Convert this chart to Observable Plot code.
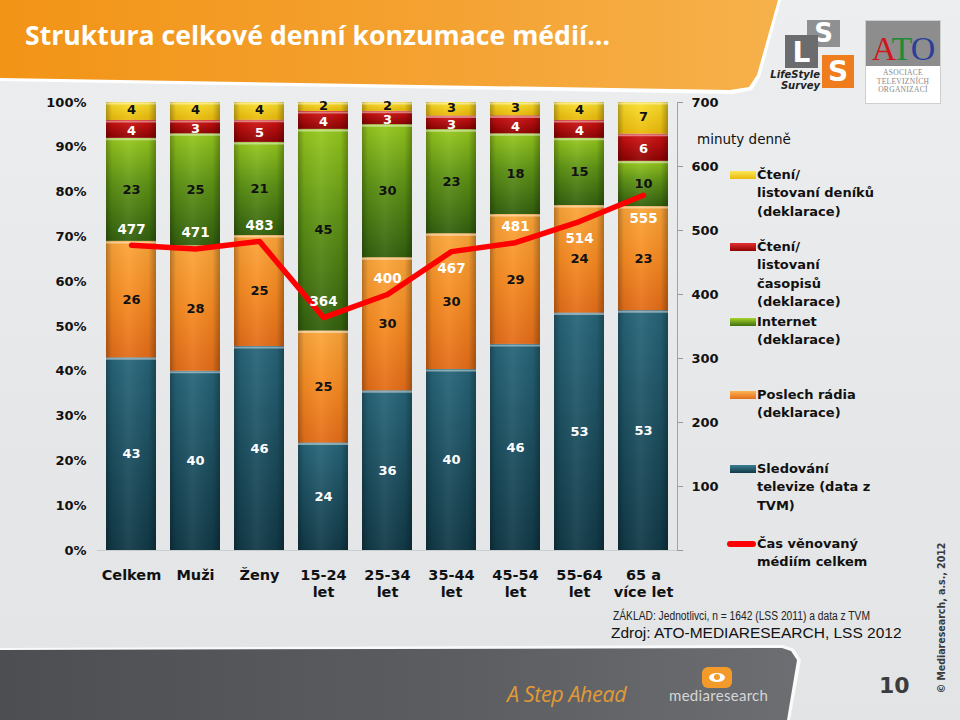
<!DOCTYPE html>
<html>
<head>
<meta charset="utf-8">
<script src="https://cdn.jsdelivr.net/npm/d3@7"></script>
<script src="https://cdn.jsdelivr.net/npm/@observablehq/plot@0.6"></script>
<style>
  html, body { margin: 0; padding: 0; }
  body { width: 960px; height: 720px; position: relative; overflow: hidden;
         background: linear-gradient(180deg, #eceef0 0%, #e5e7e9 60%, #e2e4e6 100%);
         font-family: "DejaVu Sans", Verdana, sans-serif; }
  .abs { position: absolute; }
  #bannerEdge { left: 0; top: 0; width: 800px; height: 96px; background: #ffffff;
    clip-path: polygon(0 0, 781px 0, 760px 77px, 752px 90px, 733px 94px, 0 81px); }
  #banner { left: 0; top: 0; width: 800px; height: 96px;
    background: linear-gradient(90deg, #f29416 0%, #f4a232 55%, #f7b24c 100%);
    clip-path: polygon(0 0, 778px 0, 757px 75px, 749px 87px, 730px 90px, 0 78px); }
  #title { left: 25px; top: 16px; color: #fff; font-family: "Open Sans", sans-serif; font-weight: 700;
    font-size: 27px; white-space: nowrap; transform-origin: 0 50%; }
  #chart { left: 0; top: 90px; }
  .leg { position: absolute; left: 757px; font-size: 13px; font-weight: bold; line-height: 18.5px; color: #111; white-space: nowrap; }
  .sw { position: absolute; left: 730px; width: 26px; height: 8px; }
  #footer { left: 0; top: 648px; width: 800px; height: 72px;
    background: linear-gradient(90deg, #4c4e52 0%, #5c5e62 60%, #6c6e72 100%);
    clip-path: polygon(0 2px, 782px 0, 791px 3px, 797px 12px, 787px 72px, 0 72px); }
  #footerEdge { left: 0; top: 645px; width: 805px; height: 75px; background: #fafafa;
    clip-path: polygon(0 3px, 783px 0, 794px 4px, 801px 15px, 790px 75px, 0 75px); }
</style>
</head>
<body>
<div id="bannerEdge" class="abs"></div>
<div id="banner" class="abs"></div>
<div id="title" class="abs">Struktura celkové denní konzumace médií…</div>

<!-- LSS logo -->
<div class="abs" style="left:807px;top:20px;width:33px;height:27px;background:#8f9092;color:#fff;font:bold 26px 'DejaVu Sans';text-align:center;line-height:27px;">S</div>
<div class="abs" style="left:785px;top:35px;width:33px;height:33px;background:#6b6c6e;color:#fff;font:bold 28px 'DejaVu Sans';text-align:center;line-height:36px;">L</div>
<div class="abs" style="left:822px;top:55px;width:32px;height:33px;background:#ef7d1d;color:#fff;font:bold 28px 'DejaVu Sans';text-align:center;line-height:34px;">S</div>
<div class="abs" style="left:760px;top:69px;width:60px;font:italic bold 10px 'DejaVu Sans';line-height:11px;color:#222;text-align:right;">LifeStyle<br>Survey</div>
<!-- ATO logo -->
<div class="abs" style="left:865px;top:20px;width:76px;height:84px;background:#fff;border:1px solid #cfcfcf;box-sizing:border-box;">
  <div style="height:45px;background:#8d8d8d;font:34px 'Liberation Serif',serif;line-height:56px;text-align:center;letter-spacing:-1px;overflow:hidden;"><span style="color:#d0161c">A</span><span style="color:#1f8a3a">T</span><span style="color:#2a3f9a">O</span></div>
  <div style="font:7.5px 'Liberation Serif',serif;color:#888;text-align:center;line-height:8.5px;padding-top:3px;letter-spacing:0.3px;">ASOCIACE<br>TELEVIZNÍCH<br>ORGANIZACÍ</div>
</div>

<div id="chart" class="abs"></div>

<!-- legend -->
<div class="abs" style="left:697px;top:131px;font-size:13.5px;color:#111;white-space:nowrap;">minuty denně</div>
<div id="legend"></div>

<div class="abs" style="left:613px;top:609px;font:12px 'Liberation Sans Narrow','Liberation Sans',sans-serif;color:#222;white-space:nowrap;" id="zaklad">ZÁKLAD: Jednotlivci, n = 1642 (LSS 2011) a data z TVM</div>
<div class="abs" style="left:611px;top:624px;font:15.5px 'Liberation Sans',Arial,sans-serif;color:#111;white-space:nowrap;">Zdroj: ATO-MEDIARESEARCH, LSS 2012</div>

<div id="footerEdge" class="abs"></div>
<div id="footer" class="abs"></div>
<div class="abs" style="left:507px;top:679px;font:italic 21.5px 'Open Sans',sans-serif;color:#e39a35;white-space:nowrap;letter-spacing:-0.4px;">A Step Ahead</div>
<div class="abs" style="left:702px;top:667px;width:30px;height:21px;background:#f39a2a;border-radius:6px;">
  <div style="position:absolute;left:7px;top:6px;width:16px;height:9px;background:#fff;border-radius:50%;"></div>
  <div style="position:absolute;left:12px;top:7px;width:6px;height:6px;background:#f39a2a;border-radius:50%;"></div>
</div>
<div class="abs" style="left:669px;top:686px;font:15px 'Lato',sans-serif;color:#d6d6d6;white-space:nowrap;letter-spacing:0.3px;">mediaresearch</div>
<div class="abs" style="left:879px;top:673px;font:bold 22px 'DejaVu Sans';color:#3c3c3c;">10</div>
<div class="abs" style="left:866px;top:619px;width:152px;height:18px;transform:rotate(-90deg) scaleX(0.86);transform-origin:50% 50%;font:bold 11px 'DejaVu Sans';color:#3a3a3a;white-space:nowrap;text-align:center;line-height:18px;">© Mediaresearch, a.s., 2012</div>

<script>
// ---- data ----
const categories = ["Celkem", "Muži", "Ženy", "15-24\nlet", "25-34\nlet", "35-44\nlet", "45-54\nlet", "55-64\nlet", "65 a\nvíce let"];
const seriesNames = ["Sledování televize (data z TVM)", "Poslech rádia (deklarace)", "Internet (deklarace)", "Čtení/listovaní časopisů (deklarace)", "Čtení/listovaní deníků (deklarace)"];
const tv        = [43, 40, 46, 24, 36, 40, 46, 53, 53];
const radio     = [26, 28, 25, 25, 30, 30, 29, 24, 23];
const internet  = [23, 25, 21, 45, 30, 23, 18, 15, 10];
const magazines = [4, 3, 5, 4, 3, 3, 4, 4, 6];
const dailies   = [4, 4, 4, 2, 2, 3, 3, 4, 7];
const totalMinutes = [477, 471, 483, 364, 400, 467, 481, 514, 555];
const minuteTicks = [0, 100, 200, 300, 400, 500, 600, 700];
const rightAxisMax = 700;
const lineName = "Čas věnovaný médiím celkem";

// ---- styling / layout config ----
const seriesGradients = ["url(#g-tv)", "url(#g-radio)", "url(#g-net)", "url(#g-mag)", "url(#g-daily)"];
const seriesLabelFill = ["white", "#111", "#111", "white", "#111"];
const seriesLabelDy = [0, 0, 0, 1.5, -1.5];
const totalLabelPlace = ["above", "above", "above", "above", "above", "below", "above", "below", "below2"];
const placeDy = {above: -16, below: 17, below2: 23};

const seriesValues = [tv, radio, internet, magazines, dailies];
const rows = [];
categories.forEach((c, i) => seriesNames.forEach((s, j) => rows.push({cat: c, series: s, value: seriesValues[j][i]})));
const totals = categories.map((c, i) => ({cat: c, minutes: totalMinutes[i], place: totalLabelPlace[i]}));

const stackOpts = {offset: "normalize", x: "cat", y: "value", z: "series"};

const chart = Plot.plot({
  width: 720,
  height: 520,
  marginTop: 12,
  marginBottom: 60,
  marginLeft: 97,
  marginRight: 43,
  style: {background: "transparent", fontFamily: "DejaVu Sans, Verdana, sans-serif", color: "#111", overflow: "visible"},
  x: {domain: categories, paddingInner: 0.219, paddingOuter: 0.14},
  y: {domain: [0, 1]},
  color: {domain: seriesNames, range: seriesGradients},
  marks: [
    Plot.ruleY([0], {stroke: "#c9cbcd"}),
    Plot.barY(rows, Plot.stackY({...stackOpts, fill: "series"})),
    Plot.barY(rows, Plot.stackY({...stackOpts, fill: "url(#hshade)"})),
    Plot.tickY(rows, Plot.stackY2({...stackOpts, stroke: "white", strokeOpacity: 0.45, strokeWidth: 2, dy: 1})),
    ...seriesNames.map((s, j) =>
      Plot.text(rows, Plot.stackY({...stackOpts, text: d => d.series === s ? String(d.value) : "", fill: seriesLabelFill[j], dy: seriesLabelDy[j], fontWeight: "bold", fontSize: 13}))),
    Plot.line(totals, {x: "cat", y: d => d.minutes / rightAxisMax, stroke: "#ff0000", strokeWidth: 5.5, strokeLinejoin: "round"}),
    ...Object.entries(placeDy).map(([p, dy]) =>
      Plot.text(totals.filter(d => d.place === p), {x: "cat", y: d => d.minutes / rightAxisMax, text: d => String(d.minutes), dy, fill: "white", fontWeight: "bold", fontSize: 13.5})),
    Plot.axisX({tickSize: 0, tickPadding: 18, fontSize: 14.5, fontWeight: "bold", lineHeight: 1.15, label: null}),
    Plot.axisY({anchor: "left", ticks: 10, tickSize: 0, tickPadding: 11, tickFormat: d3.format(".0%"), fontSize: 13, fontWeight: "bold", label: null}),
    Plot.axisY(minuteTicks.map(m => m / rightAxisMax), {anchor: "right", tickSize: 5, tickPadding: 9, stroke: "#9a9a9a",
      tickFormat: d => { const m = Math.round(d * rightAxisMax); return m === 0 ? "" : String(m); },
      fontSize: 13, fontWeight: "bold", label: null}),
    Plot.frame({anchor: "right", stroke: "#a3a3a3"})
  ]
});

const ns = "http://www.w3.org/2000/svg";
const defs = document.createElementNS(ns, "defs");
defs.innerHTML = `
<linearGradient id="g-tv" x1="0" y1="0" x2="0" y2="1">
  <stop offset="0" stop-color="#276579"/><stop offset="1" stop-color="#113947"/></linearGradient>
<linearGradient id="g-radio" x1="0" y1="0" x2="0" y2="1">
  <stop offset="0" stop-color="#fba63a"/><stop offset="0.5" stop-color="#f68b22"/><stop offset="1" stop-color="#e36d19"/></linearGradient>
<linearGradient id="g-net" x1="0" y1="0" x2="0" y2="1">
  <stop offset="0" stop-color="#96c81d"/><stop offset="0.45" stop-color="#5f9416"/><stop offset="1" stop-color="#33600e"/></linearGradient>
<linearGradient id="g-mag" x1="0" y1="0" x2="0" y2="1">
  <stop offset="0" stop-color="#d41414"/><stop offset="1" stop-color="#8e0202"/></linearGradient>
<linearGradient id="g-daily" x1="0" y1="0" x2="0" y2="1">
  <stop offset="0" stop-color="#fbe02c"/><stop offset="1" stop-color="#eab90a"/></linearGradient>
<linearGradient id="hshade" x1="0" y1="0" x2="1" y2="0">
  <stop offset="0" stop-color="#000" stop-opacity="0.28"/><stop offset="0.12" stop-color="#000" stop-opacity="0.05"/>
  <stop offset="0.45" stop-color="#fff" stop-opacity="0.06"/><stop offset="0.85" stop-color="#000" stop-opacity="0.05"/>
  <stop offset="1" stop-color="#000" stop-opacity="0.3"/></linearGradient>`;
chart.prepend(defs);
document.getElementById("chart").append(chart);

// legend (HTML)
const legendItems = [
  {name: "Čtení/\nlistovaní deníků\n(deklarace)", fill: "linear-gradient(#fbe85a,#eab90a)", y: 175},
  {name: "Čtení/\nlistovaní\nčasopisů\n(deklarace)", fill: "linear-gradient(#e53030,#8e0202)", y: 247},
  {name: "Internet\n(deklarace)", fill: "linear-gradient(#a6d42a,#3f6e10)", y: 322},
  {name: "Poslech rádia\n(deklarace)", fill: "linear-gradient(#fcb455,#e36d19)", y: 395},
  {name: "Sledování\ntelevize (data z\nTVM)", fill: "linear-gradient(#3a7d93,#113947)", y: 469},
  {name: "Čas věnovaný\nmédiím celkem", line: true, y: 544}
];
const legend = document.getElementById("legend");
legendItems.forEach(it => {
  const sw = document.createElement("div");
  sw.className = "sw";
  if (it.line) {
    sw.style.cssText = "left:727px;width:29px;height:6px;border-radius:3px;background:#ff0000;top:" + (it.y - 3) + "px";
  } else {
    sw.style.top = (it.y - 4) + "px";
    sw.style.background = it.fill;
  }
  legend.append(sw);
  const t = document.createElement("div");
  t.className = "leg";
  t.style.top = (it.y - 9.25) + "px";
  t.innerHTML = it.name.split("\n").join("<br>");
  legend.append(t);
});

// fit title width to reference
const title = document.getElementById("title");
const tw = title.getBoundingClientRect().width;
title.style.transform = "scaleX(" + (585 / tw) + ")";
const zk = document.getElementById("zaklad");
const zw = zk.getBoundingClientRect().width;
zk.style.transform = "scaleX(" + (257 / zw) + ")";
zk.style.transformOrigin = "0 50%";
</script>
</body>
</html>
